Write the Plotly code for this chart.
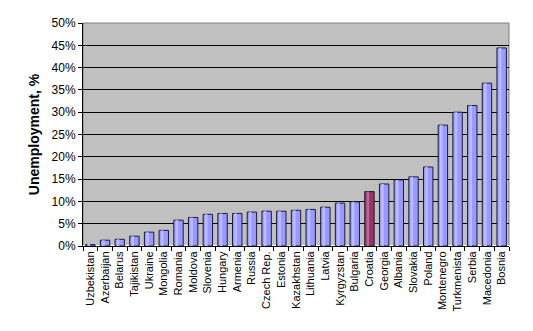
import plotly.graph_objects as go

countries = ["Uzbekistan", "Azerbaijan", "Belarus", "Tajikistan", "Ukraine", "Mongolia",
             "Romania", "Moldova", "Slovenia", "Hungary", "Armenia", "Russia", "Czech Rep.",
             "Estonia", "Kazakhstan", "Lithuania", "Latvia", "Kyrgyzstan", "Bulgaria",
             "Croatia", "Georgia", "Albania", "Slovakia", "Poland", "Montenegro",
             "Turkmenista", "Serbia", "Macedonia", "Bosnia"]
unemployment = [0.3, 1.3, 1.5, 2.2, 3.1, 3.5, 5.8, 6.4, 7.1, 7.3, 7.3, 7.6, 7.8,
                7.8, 8.0, 8.2, 8.7, 9.6, 9.9, 12.2, 13.9, 14.8, 15.5, 17.7, 27.1,
                30.0, 31.5, 36.5, 44.4]
highlight = "Croatia"
y_ticks = [0, 5, 10, 15, 20, 25, 30, 35, 40, 45, 50]

base = ["#993366" if c == highlight else "#9999FF" for c in countries]
shine = ["#B86A90" if c == highlight else "#BBBBFF" for c in countries]

fig = go.Figure()
fig.add_bar(x=countries, y=unemployment, width=0.64,
            marker=dict(color=base, line=dict(color="#1a1a40", width=1)),
            hoverinfo="x+y")
# lighter strip to give the bars a rounded look
fig.add_bar(x=countries, y=unemployment, width=0.18, offset=-0.2,
            marker=dict(color=shine, line=dict(width=0)), hoverinfo="skip")

fig.update_layout(
    width=533, height=331,
    margin=dict(l=83, r=24, t=23, b=85),
    paper_bgcolor="white", plot_bgcolor="#C0C0C0",
    barmode="overlay", showlegend=False,
    font=dict(family="Liberation Sans, Arial, sans-serif", size=11, color="black"),
)
fig.update_xaxes(
    type="category", tickangle=-90, tickson="boundaries",
    ticks="outside", ticklen=4, tickcolor="black",
    showline=True, linecolor="black", linewidth=1, mirror=False,
    showgrid=False, tickfont=dict(size=11),
)
fig.update_yaxes(
    range=[0, 50], tickvals=y_ticks, ticktext=[f"{v}%" for v in y_ticks],
    ticks="outside", ticklen=4, tickcolor="black",
    showline=True, linecolor="black", linewidth=1,
    showgrid=True, gridcolor="black", gridwidth=1,
    title=dict(text="<b>Unemployment, %</b>", font=dict(size=14), standoff=8),
    tickfont=dict(size=12),
)
# thin grey frame on the top and right of the plotting area
fig.add_shape(type="rect", xref="paper", yref="paper", x0=0, y0=0, x1=1, y1=1,
              line=dict(color="#808080", width=1), layer="below")

fig.write_html("out.html")
